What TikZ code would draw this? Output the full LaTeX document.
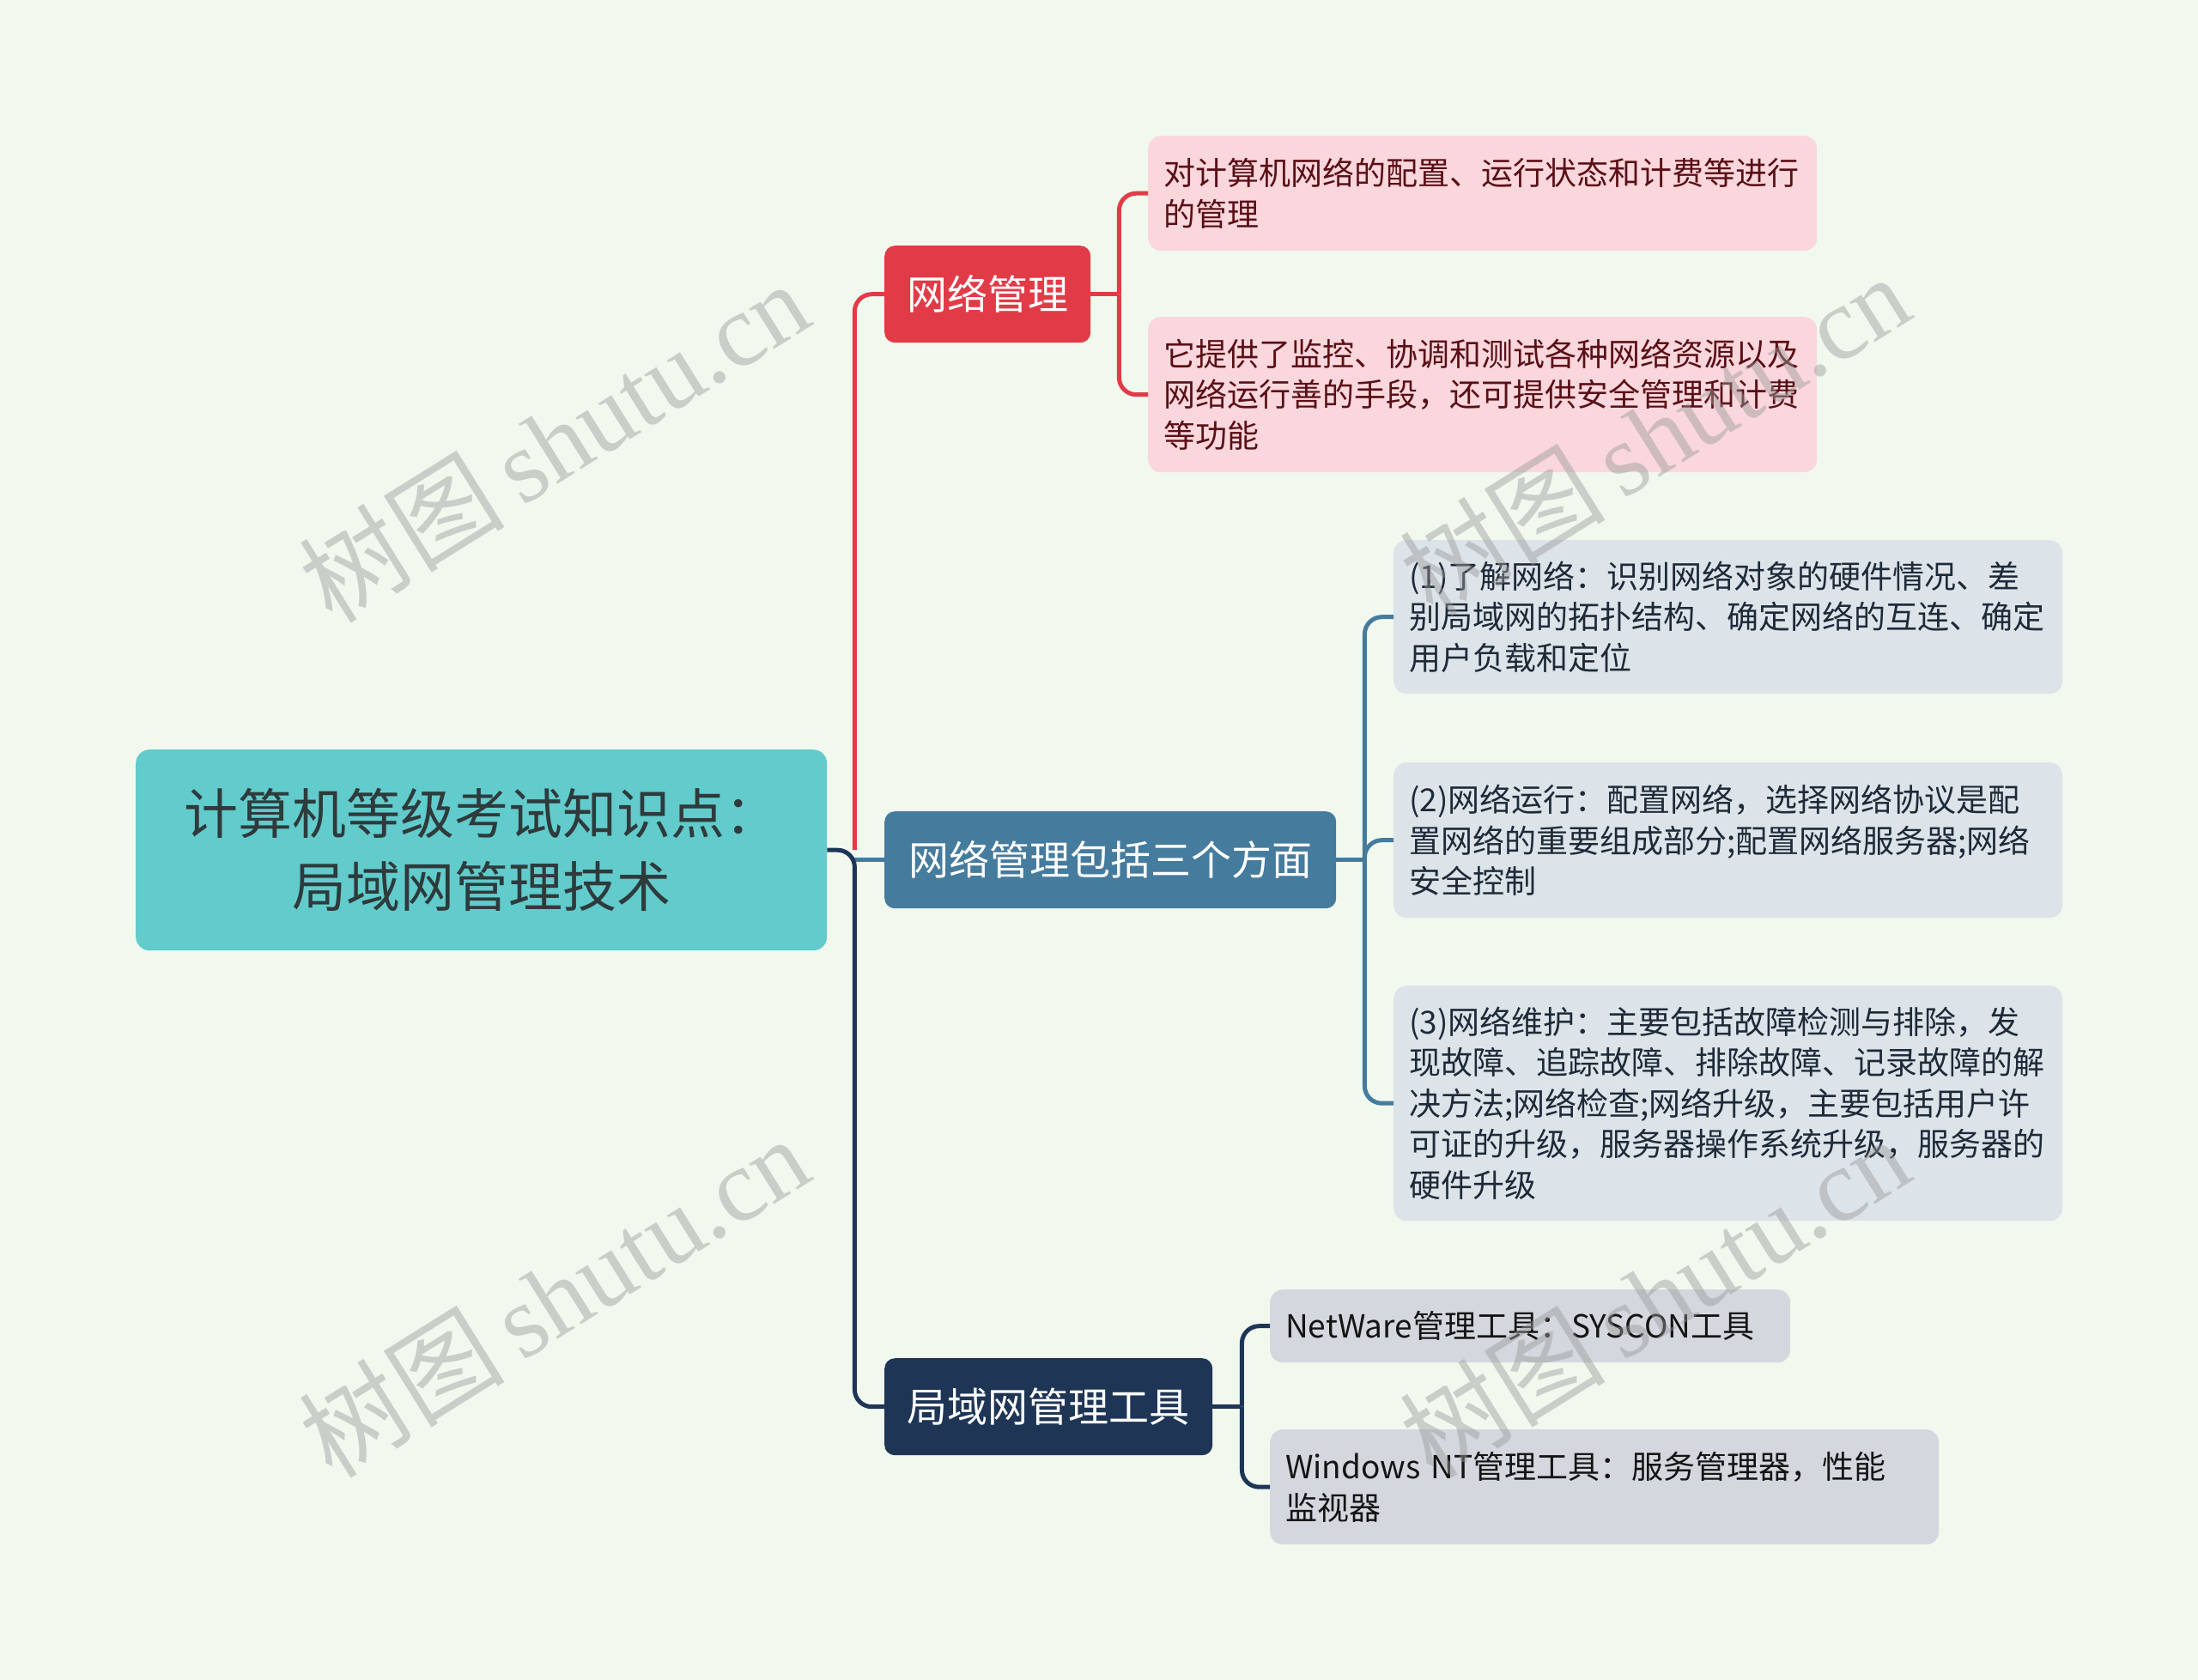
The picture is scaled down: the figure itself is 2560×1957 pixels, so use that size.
\documentclass[tikz,border=0pt]{standalone}
\usepackage{fontspec}
\setmainfont{Noto Sans CJK SC}
\newfontfamily\wmserif{Liberation Serif}
\newfontfamily\wmcjk{Noto Sans CJK SC}
\usetikzlibrary{calc}
\definecolor{bg}{HTML}{F1F9EF}
\definecolor{rootfill}{HTML}{62CBCC}
\definecolor{roottext}{HTML}{2E3A3B}
\definecolor{redc}{HTML}{E23B48}
\definecolor{steel}{HTML}{457B9D}
\definecolor{navy}{HTML}{1E3556}
\definecolor{pinkfill}{HTML}{FAD7DC}
\definecolor{pinktext}{HTML}{5A0F16}
\definecolor{bluefill}{HTML}{DCE4EA}
\definecolor{bluetext}{HTML}{1E2A38}
\definecolor{grayfill}{HTML}{D4D8DE}
\definecolor{graytext}{HTML}{141414}
\definecolor{wm}{HTML}{9A9A9A}
\begin{document}
\begin{tikzpicture}[x=1pt,y=-1pt,
  rootbox/.style={anchor=north west, fill=rootfill, text=roottext, rounded corners=16pt,
    inner sep=0pt, align=center, font=\fontsize{63}{85}\selectfont},
  mainbox/.style={anchor=north west, text=white, rounded corners=12pt,
    inner xsep=25pt, inner ysep=0pt, minimum height=113pt, font=\fontsize{47}{56}\selectfont},
  leafbox/.style={anchor=north west, rounded corners=15pt, inner xsep=18pt, inner ysep=0pt,
    text width=743pt, align=left, font=\fontsize{37}{47.5}\selectfont},
  pinkleaf/.style={leafbox, fill=pinkfill, text=pinktext},
  blueleaf/.style={leafbox, fill=bluefill, text=bluetext},
  grayleaf/.style={leafbox, fill=grayfill, text=graytext},
  conn/.style={line width=5pt, rounded corners=20pt},
  wmark/.style={text=wm, opacity=0.45, rotate=32, inner sep=0pt}
]
\useasboundingbox[fill=bg] (0,0) rectangle (2560,1957);

% root
\node[rootbox, minimum width=805pt, minimum height=234pt] (root) at (158,873)
  {计算机等级考试知识点：\\局域网管理技术};

% level 1
\node[mainbox, fill=redc, minimum width=240pt] (n1) at (1030,286) {网络管理};
\node[mainbox, fill=steel, minimum width=526pt] (n2) at (1030,945) {网络管理包括三个方面};
\node[mainbox, fill=navy, minimum width=382pt] (n3) at (1030,1582) {局域网管理工具};

% leaves
\node[pinkleaf, minimum height=134pt] (p1) at (1337,158)
  {对计算机网络的配置、运行状态和计费等进行\\的管理};
\node[pinkleaf, minimum height=181pt] (p2) at (1337,369)
  {它提供了监控、协调和测试各种网络资源以及\\网络运行善的手段，还可提供安全管理和计费\\等功能};

\node[blueleaf, minimum height=179pt] (b1) at (1623,629)
  {(1)了解网络：识别网络对象的硬件情况、差\\别局域网的拓扑结构、确定网络的互连、确定\\用户负载和定位};
\node[blueleaf, minimum height=181pt] (b2) at (1623,888)
  {(2)网络运行：配置网络，选择网络协议是配\\置网络的重要组成部分;配置网络服务器;网络\\安全控制};
\node[blueleaf, minimum height=274pt] (b3) at (1623,1148)
  {(3)网络维护：主要包括故障检测与排除，发\\现故障、追踪故障、排除故障、记录故障的解\\决方法;网络检查;网络升级，主要包括用户许\\可证的升级，服务器操作系统升级，服务器的\\硬件升级};

\node[grayleaf, text width=570pt, minimum height=85pt] (g1) at (1479,1502)
  {NetWare管理工具：SYSCON工具};
\node[grayleaf, minimum height=134pt] (g2) at (1479,1665)
  {Windows~NT管理工具：服务管理器，性能\\监视器};

% root connectors
\coordinate (hub) at ($(root.east)+(32,0)$);
\draw[conn, redc] (hub) |- (n1.west);
\draw[conn, steel] (hub |- n2.west) -- (n2.west);
\draw[conn, navy] (root.east) -- (hub) |- (n3.west);

% red branch
\coordinate (h1) at ($(n1.east)+(33,0)$);
\draw[conn, redc] (n1.east) -- (h1);
\draw[conn, redc] (h1) |- (p1.west);
\draw[conn, redc] (h1) |- (p2.west);

% steel branch
\coordinate (h2) at ($(n2.east)+(33,0)$);
\draw[conn, steel] (n2.east) -- (h2);
\draw[conn, steel] (h2) |- (b1.west);
\draw[conn, steel] (h2) |- (b2.west);
\draw[conn, steel] (h2) |- (b3.west);

% navy branch
\coordinate (h3) at ($(n3.east)+(34,0)$);
\draw[conn, navy] (n3.east) -- (h3);
\draw[conn, navy] (h3) |- (g1.west);
\draw[conn, navy] (h3) |- (g2.west);

% watermarks
\node[wmark] (wm1) at (645,514) {\fontsize{120}{120}\selectfont\wmcjk 树图\,\wmserif shutu.cn};
\node[wmark] (wm2) at (1927,506) {\fontsize{120}{120}\selectfont\wmcjk 树图\,\wmserif shutu.cn};
\node[wmark] (wm3) at (645,1510) {\fontsize{120}{120}\selectfont\wmcjk 树图\,\wmserif shutu.cn};
\node[wmark] (wm4) at (1927,1510) {\fontsize{120}{120}\selectfont\wmcjk 树图\,\wmserif shutu.cn};
\end{tikzpicture}
\end{document}
